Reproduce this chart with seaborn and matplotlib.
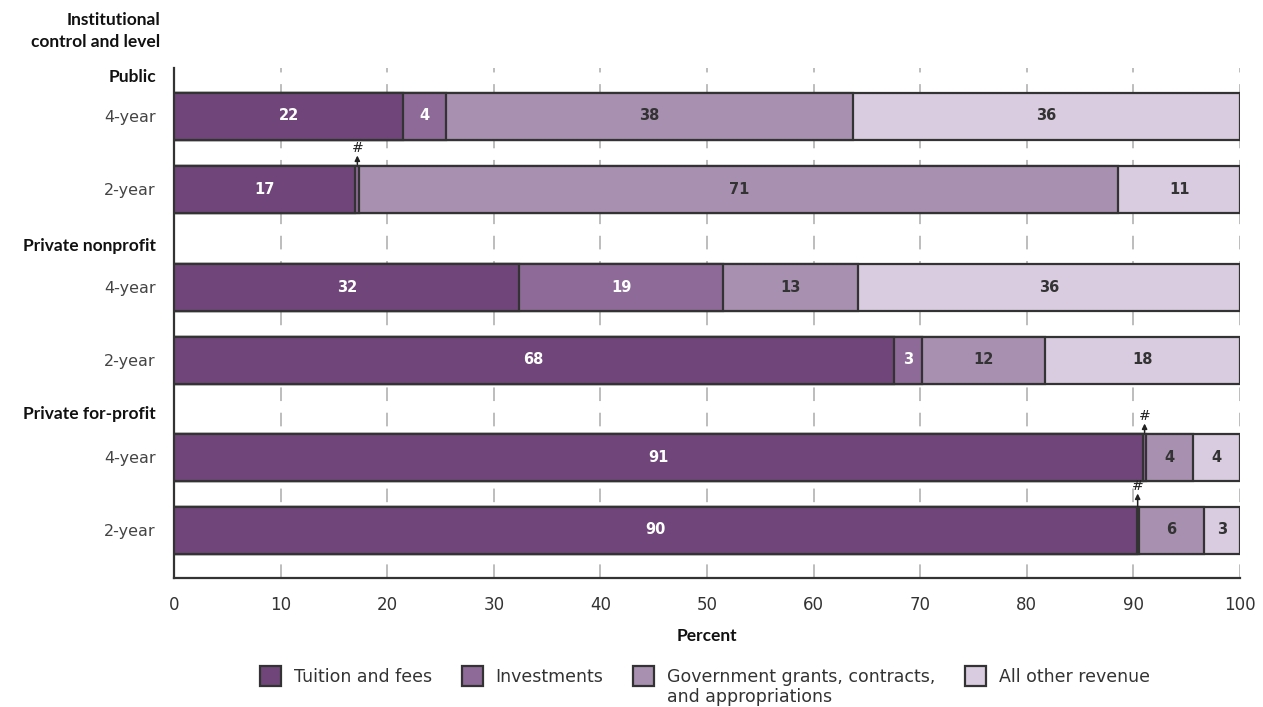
import numpy as np
import pandas as pd
import matplotlib
matplotlib.use("Agg")
import matplotlib.pyplot as plt
import seaborn as sns
from matplotlib.patches import Patch

# ---------------- data ----------------
groups = ["Public", "Private nonprofit", "Private for-profit"]
row_labels = ["4-year", "2-year", "4-year", "2-year", "4-year", "2-year"]
tuition = [21.5, 17.0, 32.4, 67.5, 90.9, 90.3]
investments = [4.0, 0.4, 19.1, 2.7, 0.3, 0.2]
government = [38.2, 71.2, 12.7, 11.5, 4.4, 6.1]
other = [36.3, 11.4, 35.8, 18.3, 4.4, 3.4]
tuition_lbl = ["22", "17", "32", "68", "91", "90"]
investments_lbl = ["4", "#", "19", "3", "#", "#"]
government_lbl = ["38", "71", "13", "12", "4", "6"]
other_lbl = ["36", "11", "36", "18", "4", "3"]
series_names = ["Tuition and fees", "Investments",
                "Government grants, contracts,", "All other revenue"]
x_ticks = [0, 10, 20, 30, 40, 50, 60, 70, 80, 90, 100]

# ---------------- style ----------------
sns.set_style("white")
plt.rcParams["font.family"] = ["DejaVu Sans"]
BOLDFONT = ["Lato", "DejaVu Sans"]
colors = ["#70457a", "#8e6a99", "#a890b1", "#d9cce0"]
edge = "#333333"
txt_dark = "#333333"

W, H = 1263, 707
fig = plt.figure(figsize=(W / 100, H / 100), dpi=100)
ax = fig.add_axes([174 / W, 1 - 578 / H, (1240 - 174) / W, (578 - 68) / H])

# layout positions (pixel-like vertical coordinates)
row_pos = [116, 189, 287, 360, 457, 530]
header_pos = [75, 244, 412]
bar_h = 47

series = [tuition, investments, government, other]
labels = [tuition_lbl, investments_lbl, government_lbl, other_lbl]
cum = np.cumsum(np.array(series), axis=0)

for i in reversed(range(4)):
    sns.barplot(x=cum[i], y=row_pos, orient="h", native_scale=True,
                color=colors[i], saturation=1, width=bar_h / 73,
                edgecolor=edge, linewidth=1.6, errorbar=None, ax=ax, zorder=3)

ax.set_xlim(0, 100)
ax.set_ylim(578, 68)

# value labels
for i in range(4):
    starts = cum[i] - np.array(series[i])
    for j, (s, v, lab) in enumerate(zip(starts, series[i], labels[i])):
        y = row_pos[j]
        if lab == "#":
            xc = s + v / 2
            top = y - bar_h / 2
            if j == 5:
                tail, head, ty = top, top - 13, top - 20
            else:
                tail, head, ty = top - 1, top - 10, top - 17
            ax.annotate("", xy=(xc, head), xytext=(xc, tail),
                        arrowprops=dict(arrowstyle="-|>,head_length=0.3,head_width=0.15",
                                        color="#222222", lw=1.1,
                                        shrinkA=0, shrinkB=0), zorder=5)
            ax.text(xc, ty, "#", ha="center", va="center",
                    fontsize=10, color="#222222", zorder=5)
        else:
            c = "white" if i < 2 else txt_dark
            ax.text(s + v / 2, y, lab, ha="center", va="center", color=c,
                    fontsize=10.5, fontweight="bold", zorder=5)

# grid & spines
ax.set_axisbelow(True)
ax.xaxis.grid(True, linestyle=(0, (7, 6)), color="#bdbdbd", linewidth=1.4, zorder=0)
ax.yaxis.grid(False)
for s in ["top", "right"]:
    ax.spines[s].set_visible(False)
for s in ["left", "bottom"]:
    ax.spines[s].set_color("#333333")
    ax.spines[s].set_linewidth(1.6)

ax.set_xticks(x_ticks)
ax.set_xticklabels([str(t) for t in x_ticks], fontsize=12, color="#333333")
ax.tick_params(axis="x", length=8, width=1.3, color="#333333", pad=5)

yt = header_pos + row_pos
yl = groups + row_labels
ax.set_yticks(yt)
ax.set_yticklabels(yl)
ax.tick_params(axis="y", length=0, pad=13)
for t in ax.get_yticklabels():
    if t.get_text() in groups:
        t.set_family(BOLDFONT)
        t.set_fontweight("bold")
        t.set_color("#111111")
        t.set_fontsize(12.5)
    else:
        t.set_color("#444444")
        t.set_fontsize(11.5)
ax.set_ylabel("")
ax.set_xlabel("Percent", fontsize=12.5, fontweight="bold", color="#111111",
              labelpad=10, family=BOLDFONT)

fig.text(160 / W, 1 - 31 / H, "Institutional\ncontrol and level", ha="right",
         va="center", fontsize=12.5, fontweight="bold", color="#111111",
         linespacing=1.5, family=BOLDFONT)

# legend
handles = [Patch(facecolor=colors[i], edgecolor=edge, linewidth=1.6) for i in range(4)]
leg = fig.legend(handles, series_names, loc="center", ncol=4,
                 bbox_to_anchor=(705 / W, 1 - 676 / H), frameon=False,
                 fontsize=12.5, handlelength=1.2, handleheight=1.4,
                 handletextpad=0.75, columnspacing=1.7)
for t in leg.get_texts():
    t.set_color("#333333")

fig.canvas.draw()
r = fig.canvas.get_renderer()
bb = leg.get_texts()[2].get_window_extent(r)
fig.text(bb.x0 / W, (bb.y0 - 11) / H, "and appropriations", ha="left", va="center",
         fontsize=12.5, color="#333333")

fig.savefig("out.png", dpi=100)
